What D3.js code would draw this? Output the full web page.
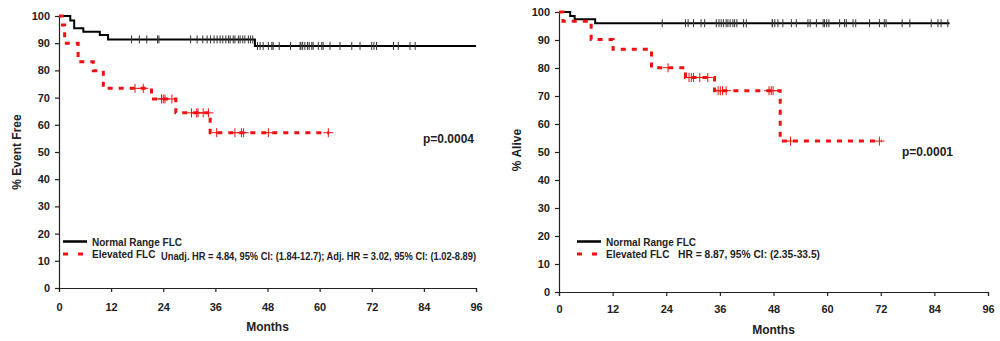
<!DOCTYPE html>
<html><head><meta charset="utf-8">
<script src="https://cdn.jsdelivr.net/npm/d3@7"></script>
<style>body{margin:0;background:#fff}svg{display:block;font-family:"Liberation Sans",Arial,sans-serif;font-weight:bold}</style>
</head><body>
<svg id="c" width="1000" height="341"></svg>
<script>
// ---- data ----
const xTicks = [0, 12, 24, 36, 48, 60, 72, 84, 96];
const yTicks = [0, 10, 20, 30, 40, 50, 60, 70, 80, 90, 100];
const seriesNames = ["Normal Range FLC", "Elevated FLC"];

// Left panel: event free
const normalLeftTimes = [0, 2.6, 3.5, 5.6, 9.4, 11.3, 45.1, 96];
const normalLeftSurv  = [100, 98.3, 95.5, 94.2, 93, 91.4, 89, 89];
const normalLeftCensor = [16.7, 18.5, 20.2, 22.7, 23.0, 30.3, 31.8, 33.1, 34.1, 34.9, 35.7, 36.4, 37.1, 37.7, 38.4, 39.0, 39.4, 40.1, 40.5, 41.3, 41.7, 42.3, 42.8, 43.6, 44.1, 44.6, 45.7, 46.3, 47.0, 48.2, 49.0, 49.3, 50.7, 53.3, 55.5, 55.7, 56.1, 56.6, 57.2, 57.6, 58.2, 58.5, 59.7, 60.5, 60.8, 62.4, 64.7, 67.4, 69.3, 72.0, 72.5, 73.1, 77.0, 78.1, 80.8, 82.0];
const elevatedLeftTimes = [0, 0.8, 1.3, 4.4, 7.9, 10.2, 21.3, 26.9, 34.8, 62.2];
const elevatedLeftSurv  = [100, 96.7, 90, 83.2, 79.9, 73.4, 69.5, 64.4, 57.1, 57.1];
const elevatedLeftCensor = [17.5, 19.4, 23.6, 24.0, 24.4, 26.0, 30.5, 31.7, 32.0, 33.2, 34.4, 36.3, 40.5, 42.0, 42.5, 48.2, 62.0];

// Right panel: alive
const normalRightTimes = [0, 2.5, 3.5, 8.1, 87.4];
const normalRightSurv  = [100, 98.6, 97.4, 96.0, 96.0];
const normalRightCensor = [23.1, 28.3, 28.9, 30.1, 31.8, 32.6, 35.2, 35.8, 36.3, 36.8, 37.4, 37.8, 38.3, 38.9, 39.3, 39.8, 41.3, 41.9, 47.7, 47.8, 48.3, 49.0, 50.1, 52.0, 53.1, 55.7, 56.2, 57.6, 59.1, 59.4, 59.9, 60.4, 62.8, 63.9, 64.3, 65.8, 66.4, 69.5, 71.7, 72.8, 73.2, 76.8, 78.5, 83.3, 84.8, 85.5, 87.0];
const elevatedRightTimes = [0, 0.9, 7.2, 12.1, 20.7, 28.3, 34.8, 49.5, 72.2];
const elevatedRightSurv  = [100, 96.7, 90.2, 86.7, 80.1, 76.6, 71.9, 53.9, 53.9];
const elevatedRightCensor = [24.4, 29.1, 29.6, 30.1, 31.5, 33.3, 35.6, 36.1, 36.6, 37.4, 47.0, 47.5, 47.9, 51.8, 71.7];

const leftYTitle = "% Event Free", rightYTitle = "% Alive";
const xTitle = "Months";
const leftP = "p=0.0004", rightP = "p=0.0001";
const leftHR = "Unadj. HR = 4.84, 95% CI: (1.84-12.7); Adj. HR = 3.02, 95% CI: (1.02-8.89)";
const rightHR = "HR = 8.87, 95% CI: (2.35-33.5)";

// ---- drawing ----
const svg = d3.select("#c");
const RED = "#f01010";

function survAt(times, vals, t) {
  let v = vals[0];
  for (let i = 0; i < times.length; i++) if (times[i] <= t) v = vals[i];
  return v;
}

function panel(cfg) {
  const x = d3.scaleLinear().domain([0, 96]).range([cfg.x0, cfg.x1]);
  const y = d3.scaleLinear().domain([0, 100]).range([cfg.y0, cfg.y1]);
  const g = svg.append("g");

  const ya = g.append("g").attr("transform", `translate(${cfg.x0},0)`)
    .call(d3.axisLeft(y).tickValues(yTicks).tickSize(4).tickPadding(5));
  const xa = g.append("g").attr("transform", `translate(0,${cfg.y0})`)
    .call(d3.axisBottom(x).tickValues(xTicks).tickSize(4).tickPadding(cfg.xPad));
  [ya, xa].forEach(a => {
    a.selectAll("path,line").attr("stroke", "#222").attr("stroke-width", 1.2);
    a.selectAll("text").attr("font-size", 11).attr("font-weight", "bold").attr("fill", "#222")
      .attr("font-family", '"Liberation Sans",Arial,sans-serif');
  });

  g.append("text").attr("transform", `translate(${cfg.ytx},${cfg.yty}) rotate(-90)`)
    .attr("text-anchor", "middle").attr("font-size", 12).attr("fill", "#222").text(cfg.yTitle);
  g.append("text").attr("x", (cfg.x0 + cfg.x1) / 2).attr("y", cfg.xty)
    .attr("text-anchor", "middle").attr("font-size", 12).attr("fill", "#222").text(xTitle);

  const line = d3.line().x(d => x(d[0])).y(d => y(d[1])).curve(d3.curveStepAfter);

  // normal (black)
  const nPts = cfg.nT.map((t, i) => [t, cfg.nS[i]]);
  g.append("path").attr("d", line(nPts)).attr("fill", "none").attr("stroke", "#000").attr("stroke-width", 2);
  g.selectAll(null).data(cfg.nC).enter().append("line")
    .attr("x1", d => x(d)).attr("x2", d => x(d))
    .attr("y1", d => y(survAt(cfg.nT, cfg.nS, d)) - 4)
    .attr("y2", d => y(survAt(cfg.nT, cfg.nS, d)) + 4)
    .attr("stroke", "#333").attr("stroke-width", 1);

  // elevated (red dashed)
  const ePts = cfg.eT.map((t, i) => [t, cfg.eS[i]]);
  g.append("path").attr("d", line(ePts)).attr("fill", "none").attr("stroke", RED)
    .attr("stroke-width", 3).attr("stroke-dasharray", "5,6");
  const cg = g.selectAll(null).data(cfg.eC).enter().append("g")
    .attr("transform", d => `translate(${x(d)},${y(survAt(cfg.eT, cfg.eS, d))})`);
  cg.append("line").attr("x1", -5).attr("x2", 5).attr("stroke", RED).attr("stroke-width", 1);
  cg.append("line").attr("y1", -4.5).attr("y2", 4.5).attr("stroke", RED).attr("stroke-width", 1);

  // legend
  g.append("line").attr("x1", cfg.lx).attr("x2", cfg.lx + 24).attr("y1", 241.5).attr("y2", 241.5)
    .attr("stroke", "#000").attr("stroke-width", 2.5);
  g.append("line").attr("x1", cfg.lx).attr("x2", cfg.lx + 21).attr("y1", 254).attr("y2", 254)
    .attr("stroke", RED).attr("stroke-width", 3).attr("stroke-dasharray", "5,10");
  g.append("text").attr("x", cfg.lx + 29).attr("y", 245.5).attr("font-size", 10).attr("fill", "#222").text(seriesNames[0]);
  g.append("text").attr("x", cfg.lx + 29).attr("y", 258).attr("font-size", 10).attr("fill", "#222").text(seriesNames[1]);
  g.append("text").attr("x", cfg.hrx).attr("y", cfg.hry).attr("font-size", 10).attr("fill", "#222")
    .attr("textLength", cfg.hrw).attr("lengthAdjust", "spacingAndGlyphs").text(cfg.hr);

  g.append("text").attr("x", cfg.px).attr("y", cfg.py).attr("font-size", 12).attr("fill", "#222").text(cfg.p);
}

panel({x0: 59, x1: 476, y0: 288, y1: 16, xPad: 11, ytx: 21, yty: 152, xty: 331, yTitle: leftYTitle,
  nT: normalLeftTimes, nS: normalLeftSurv, nC: normalLeftCensor,
  eT: elevatedLeftTimes, eS: elevatedLeftSurv, eC: elevatedLeftCensor,
  lx: 63, hrx: 161, hry: 260, hrw: 315, hr: leftHR, px: 423, py: 143, p: leftP});
panel({x0: 559, x1: 988, y0: 292, y1: 12, xPad: 9, ytx: 521, yty: 150, xty: 334, yTitle: rightYTitle,
  nT: normalRightTimes, nS: normalRightSurv, nC: normalRightCensor,
  eT: elevatedRightTimes, eS: elevatedRightSurv, eC: elevatedRightCensor,
  lx: 577, hrx: 678, hry: 258, hrw: 142, hr: rightHR, px: 902, py: 156, p: rightP});
</script>
</body></html>
